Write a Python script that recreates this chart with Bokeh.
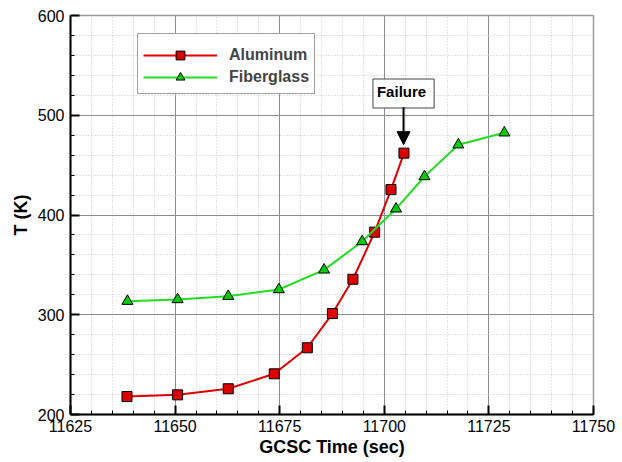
from bokeh.plotting import figure
from bokeh.models import (FixedTicker, Legend, LegendItem, Label, Arrow, NormalHead)
from bokeh.embed import file_html
from bokeh.resources import INLINE

# ---- data ----
al_time = [11638.5, 11650.6, 11662.7, 11673.7, 11681.6, 11687.6, 11692.5, 11697.7, 11701.6, 11704.7]
al_temp = [218.0, 219.7, 225.8, 240.8, 266.9, 301.2, 335.6, 382.8, 425.5, 462.0]
fg_time = [11638.6, 11650.6, 11662.7, 11674.8, 11685.6, 11694.7, 11702.8, 11709.6, 11717.7, 11728.7]
fg_temp = [313.6, 315.3, 318.6, 325.3, 345.0, 373.4, 406.2, 438.6, 470.4, 482.4]
x_ticks = [11625, 11650, 11675, 11700, 11725, 11750]
y_ticks = [200, 300, 400, 500, 600]
series_names = ["Aluminum", "Fiberglass"]
failure_text = "Failure"
failure_x = 11704.6
failure_label_y = 521.8
failure_arrow_y = (508.0, 470.5)

FONT = "Liberation Sans"

p = figure(width=622, height=462, x_range=(11625, 11750), y_range=(200, 600),
           output_backend="svg", toolbar_location=None,
           min_border_left=70, min_border_right=29, min_border_top=15, min_border_bottom=48)
p.background_fill_color = "white"
p.border_fill_color = "white"
p.outline_line_color = "#9a9a9a"
p.outline_line_width = 1.5

p.xaxis.ticker = FixedTicker(ticks=x_ticks, minor_ticks=list(range(11625, 11751, 5)))
p.yaxis.ticker = FixedTicker(ticks=y_ticks, minor_ticks=list(range(200, 601, 20)))

for ax in (p.xaxis[0], p.yaxis[0]):
    ax.axis_line_color = "black"
    ax.axis_line_width = 2
    ax.major_tick_in = 9
    ax.major_tick_out = 0
    ax.minor_tick_in = 4
    ax.minor_tick_out = 0
    ax.major_tick_line_color = "black"
    ax.major_tick_line_width = 2
    ax.minor_tick_line_color = "black"
    ax.minor_tick_line_width = 1
    ax.major_label_text_font = FONT
    ax.major_label_text_font_size = "16px"
    ax.major_label_text_color = "black"
    ax.axis_label_text_font = FONT
    ax.axis_label_text_font_size = "18px"
    ax.axis_label_text_font_style = "bold"
    ax.axis_label_text_color = "black"

p.xaxis.axis_label = "GCSC Time (sec)"
p.yaxis.axis_label = "T (K)"
p.xaxis.major_label_standoff = 5
p.xaxis.axis_label_standoff = 2
p.yaxis.major_label_standoff = 6
p.yaxis.axis_label_standoff = 4

for g in (p.xgrid[0], p.ygrid[0]):
    g.grid_line_color = "#8c8c8c"
    g.grid_line_width = 1
    g.minor_grid_line_color = "#c8c8c8"
    g.minor_grid_line_dash = "1 2"
    g.minor_grid_line_width = 1

al_line = p.line(al_time, al_temp, line_color="#e00000", line_width=2)
al_pts = p.scatter(al_time, al_temp, marker="square", size=10, fill_color="#dd0000",
                   line_color="black", line_width=1)
fg_line = p.line(fg_time, fg_temp, line_color="#22dd22", line_width=2)
fg_pts = p.scatter(fg_time, fg_temp, marker="triangle", size=11, fill_color="#00cc00",
                   line_color="black", line_width=1)

legend = Legend(items=[LegendItem(label=series_names[0], renderers=[al_line, al_pts]),
                       LegendItem(label=series_names[1], renderers=[fg_line, fg_pts])],
                location=(67, 320), orientation="vertical",
                title=" ", title_text_font_size="4px", title_standoff=0,
                glyph_width=74, glyph_height=22, label_height=22, spacing=0, padding=5,
                label_standoff=12,
                label_text_font=FONT, label_text_font_size="16px", label_text_font_style="bold",
                border_line_color="#444444", border_line_width=1,
                background_fill_color="white", background_fill_alpha=1.0)
p.add_layout(legend, "center")

lab = Label(x=failure_x, y=failure_label_y, text=failure_text, text_align="center",
            text_baseline="middle", text_font=FONT, text_font_size="15px",
            text_font_style="bold", text_color="black",
            border_line_color="#444444", border_line_width=1,
            background_fill_color="white", padding=(4, 8, 4, 8))
p.add_layout(lab)

arr = Arrow(end=NormalHead(size=13, fill_color="black", line_color="black"),
            x_start=failure_x, y_start=failure_arrow_y[0],
            x_end=failure_x, y_end=failure_arrow_y[1],
            line_color="black", line_width=2)
p.add_layout(arr)

open("out.html", "w").write(file_html(p, INLINE))
